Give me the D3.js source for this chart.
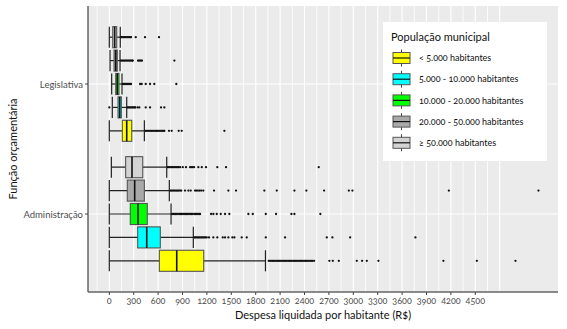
<!DOCTYPE html>
<html>
<head>
<meta charset="utf-8">
<script src="https://cdn.jsdelivr.net/npm/d3@7"></script>
<style>
  body { margin: 0; background: #fff; }
  svg { font-family: Lato, "Open Sans", sans-serif; font-variant-numeric: oldstyle-nums; }
</style>
</head>
<body>
<svg id="chart" width="567" height="329"></svg>
<script>
// categories and groups
const categories = ["Legislativa", "Administração"];
const groups = ["< 5.000 habitantes", "5.000 - 10.000 habitantes", "10.000 - 20.000 habitantes",
                "20.000 - 50.000 habitantes", "≥ 50.000 habitantes"];
const groupColors = ["#ffff00", "#00ffff", "#00ff00", "#a9a9a9", "#d3d3d3"];
const xTicks = [0, 300, 600, 900, 1200, 1500, 1800, 2100, 2400, 2700, 3000, 3300, 3600, 3900, 4200, 4500];

// [lower whisker, q1, median, q3, upper whisker] per group, one array per category
const statsLegislativa = [
  [0, 160, 214, 276, 431],
  [37, 107, 128, 148, 214],
  [29, 79, 98, 119, 156],
  [9, 58, 79, 98, 132],
  [0, 42, 66, 91, 135]
];
const statsAdministracao = [
  [0, 615, 829, 1161, 1920],
  [0, 349, 460, 627, 1033],
  [0, 258, 353, 467, 759],
  [0, 221, 312, 431, 738],
  [25, 201, 279, 411, 706]
];

// outliers per group
const outLegislativa = [
  [445, 460, 475, 490, 505, 520, 535, 550, 565, 580, 595, 610, 625, 640, 655, 670, 677, 734, 767, 853, 890, 1415],
  [0, 222, 235, 248, 261, 274, 287, 300, 313, 320, 349, 369, 448, 501, 636, 677],
  [165, 178, 191, 204, 217, 230, 243, 256, 267, 378, 398, 448, 501, 553, 824],
  [140, 153, 166, 179, 192, 205, 218, 231, 244, 257, 270, 283, 288, 353, 365, 378, 390, 402, 800],
  [140, 153, 166, 179, 192, 205, 218, 231, 244, 257, 267, 325, 439, 611]
];
const outAdministracao = [
  [1960, 1975, 1990, 2005, 2020, 2035, 2050, 2065, 2080, 2095, 2110, 2125, 2140, 2155, 2170, 2185, 2200, 2215,
   2230, 2245, 2260, 2275, 2290, 2305, 2320, 2335, 2350, 2365, 2380, 2395, 2410, 2425, 2440, 2455, 2470, 2485,
   2500, 2518, 2706, 2748, 2822, 3043, 3108, 3166, 3309, 4108, 4519, 4994],
  [1045, 1060, 1075, 1090, 1105, 1120, 1135, 1150, 1165, 1180, 1198, 1226, 1279, 1328, 1395, 1423, 1464, 1513,
   1538, 1628, 1690, 1924, 2161, 2674, 2743, 2961, 3764],
  [770, 785, 800, 815, 830, 845, 860, 875, 890, 905, 920, 935, 950, 965, 980, 995, 1010, 1026, 1045, 1060, 1075,
   1090, 1105, 1116, 1251, 1279, 1321, 1370, 1423, 1476, 1710, 1764, 1924, 2050, 2239, 2276, 2595],
  [750, 765, 780, 795, 810, 825, 840, 855, 870, 885, 931, 972, 1001, 1054, 1070, 1090, 1110, 1130, 1156, 1288,
   1464, 1558, 1906, 2059, 2276, 2423, 2641, 2945, 2989, 4175, 5277],
  [718, 733, 748, 763, 778, 793, 808, 823, 838, 853, 870, 903, 943, 993, 1010, 1025, 1042, 1095, 1137, 1189,
   1328, 1435, 2575]
];

const stats = [statsLegislativa, statsAdministracao];
const outliers = [outLegislativa, outAdministracao];

const svg = d3.select("#chart");
const panel = {left: 88, right: 558, top: 6, bottom: 292};

const x = d3.scaleLinear().domain([-262, 5517]).range([panel.left, panel.right]);
// discrete axis with 0.6 expansion on both ends
const unit = (panel.bottom - panel.top) / 2.2;
const y = d3.scalePoint().domain(categories).range([panel.top + 0.6 * unit, panel.bottom - 0.6 * unit]);
// dodge: first group at the bottom
const dodge = d3.scaleBand().domain(d3.range(groups.length).reverse())
  .range([-0.45 * unit, 0.45 * unit]).paddingInner(0.1).paddingOuter(0.05);

svg.append("rect")
  .attr("x", panel.left).attr("y", panel.top)
  .attr("width", panel.right - panel.left).attr("height", panel.bottom - panel.top)
  .attr("fill", "#ebebeb");

let grid = svg.append("g");
d3.range(-150, 4801, 150).forEach(v => {
  grid.append("line")
    .attr("x1", x(v)).attr("x2", x(v))
    .attr("y1", panel.top).attr("y2", panel.bottom)
    .attr("stroke", "#fff").attr("stroke-width", v % 300 === 0 ? 1.1 : 0.8);
});
categories.forEach(c => {
  grid.append("line")
    .attr("x1", panel.left).attr("x2", panel.right)
    .attr("y1", y(c)).attr("y2", y(c))
    .attr("stroke", "#fff").attr("stroke-width", 1.1);
});

let boxes = svg.append("g");
categories.forEach((c, ci) => {
  groups.forEach((g, gi) => {
    let s = stats[ci][gi];
    let top = y(c) + dodge(gi);
    let h = dodge.bandwidth();
    let mid = top + h / 2;
    let b = boxes.append("g");
    b.append("line")
      .attr("x1", x(s[0])).attr("x2", x(s[4]))
      .attr("y1", mid).attr("y2", mid)
      .attr("stroke", "#222").attr("stroke-width", 1.2);
    [s[0], s[4]].forEach(v => {
      b.append("line")
        .attr("x1", x(v)).attr("x2", x(v))
        .attr("y1", top).attr("y2", top + h)
        .attr("stroke", "#222").attr("stroke-width", 1.2);
    });
    b.append("rect")
      .attr("x", x(s[1])).attr("y", top)
      .attr("width", x(s[3]) - x(s[1])).attr("height", h)
      .attr("fill", groupColors[gi])
      .attr("stroke", "#555").attr("stroke-width", 1.1);
    b.append("line")
      .attr("x1", x(s[2])).attr("x2", x(s[2]))
      .attr("y1", top).attr("y2", top + h)
      .attr("stroke", "#111").attr("stroke-width", 1.6);
    b.selectAll("circle").data(outliers[ci][gi]).enter()
      .append("circle")
      .attr("cx", d => x(d)).attr("cy", mid).attr("r", 1.15)
      .attr("fill", "#111");
  });
});

// axes
let axisColor = "#4d4d4d";
svg.append("line")
  .attr("x1", panel.left).attr("x2", panel.left)
  .attr("y1", panel.top).attr("y2", panel.bottom)
  .attr("stroke", "#666").attr("stroke-width", 1.5);
svg.append("line")
  .attr("x1", panel.left).attr("x2", panel.right)
  .attr("y1", panel.bottom).attr("y2", panel.bottom)
  .attr("stroke", "#666").attr("stroke-width", 1.5);

let xAxis = svg.append("g");
xTicks.forEach(t => {
  xAxis.append("line")
    .attr("x1", x(t)).attr("x2", x(t))
    .attr("y1", panel.bottom).attr("y2", panel.bottom + 3)
    .attr("stroke", "#444");
  xAxis.append("text")
    .attr("x", x(t)).attr("y", panel.bottom + 12)
    .attr("text-anchor", "middle")
    .attr("font-size", 9).attr("fill", axisColor)
    .text(t);
});
categories.forEach(c => {
  svg.append("line")
    .attr("x1", panel.left - 3).attr("x2", panel.left)
    .attr("y1", y(c)).attr("y2", y(c))
    .attr("stroke", "#444");
  svg.append("text")
    .attr("x", panel.left - 5).attr("y", y(c) + 3.5)
    .attr("text-anchor", "end")
    .attr("font-size", 9.5).attr("fill", axisColor)
    .text(c);
});

svg.append("text")
  .attr("x", (panel.left + panel.right) / 2).attr("y", 319)
  .attr("text-anchor", "middle").attr("font-size", 11).attr("fill", "#111")
  .text("Despesa liquidada por habitante (R$)");
svg.append("text")
  .attr("transform", "translate(17," + ((panel.top + panel.bottom) / 2) + ") rotate(-90)")
  .attr("text-anchor", "middle").attr("font-size", 11).attr("fill", "#111")
  .text("Função orçamentária");

// legend
let legend = svg.append("g").attr("transform", "translate(383,22)");
legend.append("rect").attr("width", 164).attr("height", 139).attr("fill", "#fff");
legend.append("text")
  .attr("x", 8).attr("y", 19)
  .attr("font-size", 11).attr("fill", "#111")
  .text("População municipal");
groups.forEach((g, i) => {
  let cy = 36 + i * 21.2;
  let k = legend.append("g");
  k.append("line")
    .attr("x1", 18.5).attr("x2", 18.5).attr("y1", cy - 8.5).attr("y2", cy + 8.5)
    .attr("stroke", "#444");
  k.append("rect")
    .attr("x", 10).attr("y", cy - 5.5).attr("width", 17).attr("height", 11)
    .attr("fill", groupColors[i]).attr("stroke", "#555");
  k.append("line")
    .attr("x1", 10).attr("x2", 27).attr("y1", cy).attr("y2", cy)
    .attr("stroke", "#111").attr("stroke-width", 1.2);
  k.append("text")
    .attr("x", 36).attr("y", cy + 3.2)
    .attr("font-size", 9).attr("fill", "#111")
    .text(g);
});
</script>
</body>
</html>
